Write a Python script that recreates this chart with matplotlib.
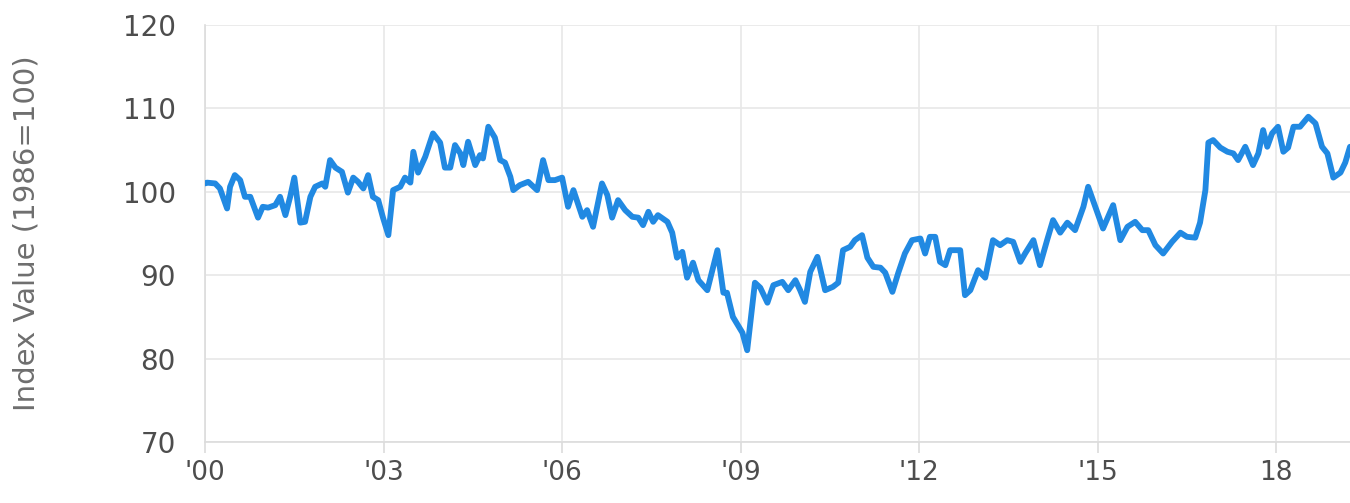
import matplotlib
matplotlib.use("Agg")
import matplotlib.pyplot as plt

# Index (decimal year, index value, 1986=100)
years = [
    2000.00, 2000.03, 2000.17, 2000.25, 2000.37, 2000.42, 2000.50, 2000.59, 2000.67, 2000.76,
    2000.89, 2000.97, 2001.06, 2001.18, 2001.26, 2001.35, 2001.43, 2001.50, 2001.60, 2001.68,
    2001.77, 2001.85, 2001.97, 2002.02, 2002.10, 2002.19, 2002.30, 2002.40, 2002.49, 2002.57,
    2002.66, 2002.74, 2002.82, 2002.91, 2002.99, 2003.08, 2003.16, 2003.28, 2003.36, 2003.45,
    2003.50, 2003.58, 2003.70, 2003.83, 2003.95, 2004.03, 2004.12, 2004.20, 2004.29, 2004.34,
    2004.42, 2004.54, 2004.62, 2004.67, 2004.76, 2004.87, 2004.96, 2005.04, 2005.13, 2005.18,
    2005.29, 2005.43, 2005.58, 2005.68, 2005.77, 2005.88, 2006.00, 2006.10, 2006.19, 2006.34,
    2006.42, 2006.52, 2006.67, 2006.76, 2006.84, 2006.94, 2007.06, 2007.18, 2007.28, 2007.36,
    2007.45, 2007.53, 2007.61, 2007.77, 2007.85, 2007.93, 2008.02, 2008.10, 2008.20, 2008.29,
    2008.44, 2008.61, 2008.71, 2008.77, 2008.87, 2009.03, 2009.11, 2009.24, 2009.33, 2009.45,
    2009.55, 2009.70, 2009.80, 2009.92, 2010.00, 2010.08, 2010.17, 2010.29, 2010.42, 2010.55,
    2010.64, 2010.72, 2010.84, 2010.92, 2011.04, 2011.13, 2011.23, 2011.35, 2011.43, 2011.55,
    2011.65, 2011.76, 2011.88, 2012.02, 2012.10, 2012.18, 2012.27, 2012.35, 2012.44, 2012.52,
    2012.69, 2012.77, 2012.86, 2012.99, 2013.11, 2013.24, 2013.36, 2013.48, 2013.58, 2013.70,
    2013.78, 2013.92, 2014.03, 2014.15, 2014.25, 2014.37, 2014.49, 2014.62, 2014.76, 2014.84,
    2014.96, 2015.09, 2015.26, 2015.38, 2015.50, 2015.63, 2015.75, 2015.85, 2015.97, 2016.10,
    2016.25, 2016.39, 2016.50, 2016.64, 2016.72, 2016.81, 2016.86, 2016.94, 2017.06, 2017.18,
    2017.28, 2017.36, 2017.48, 2017.61, 2017.70, 2017.78, 2017.85, 2017.93, 2018.03, 2018.12,
    2018.20, 2018.29, 2018.40, 2018.54, 2018.66, 2018.77, 2018.86, 2018.96, 2019.08, 2019.16,
    2019.24,
]
index_values = [
    101.0, 101.1, 101.0, 100.4, 98.0, 100.6, 102.0, 101.4, 99.4, 99.4,
    96.9, 98.2, 98.1, 98.4, 99.4, 97.2, 99.4, 101.7, 96.3, 96.4,
    99.4, 100.6, 101.0, 100.6, 103.8, 102.9, 102.4, 99.9, 101.7, 101.2,
    100.4, 102.0, 99.4, 99.0, 96.9, 94.8, 100.2, 100.6, 101.7, 101.1,
    104.8, 102.3, 104.2, 107.0, 105.9, 102.9, 102.9, 105.6, 104.6, 103.2,
    106.0, 103.2, 104.4, 104.0, 107.8, 106.5, 103.8, 103.5, 101.8, 100.2,
    100.8, 101.2, 100.2, 103.8, 101.4, 101.4, 101.7, 98.2, 100.2, 97.0,
    97.8, 95.8, 101.0, 99.6, 96.9, 99.0, 97.8, 97.0, 96.9, 96.0,
    97.6, 96.4, 97.2, 96.4, 95.1, 92.1, 92.8, 89.7, 91.5, 89.4,
    88.2, 93.0, 87.9, 87.9, 85.0, 83.1, 81.0, 89.1, 88.5, 86.7,
    88.8, 89.2, 88.2, 89.4, 88.2, 86.8, 90.4, 92.2, 88.2, 88.6,
    89.1, 93.0, 93.4, 94.2, 94.8, 92.1, 91.0, 90.9, 90.3, 88.0,
    90.3, 92.6, 94.2, 94.4, 92.6, 94.6, 94.6, 91.6, 91.2, 93.0,
    93.0, 87.6, 88.2, 90.6, 89.7, 94.2, 93.6, 94.2, 94.0, 91.6,
    92.6, 94.2, 91.2, 94.2, 96.6, 95.1, 96.3, 95.4, 98.2, 100.6,
    98.2, 95.6, 98.4, 94.2, 95.8, 96.4, 95.4, 95.4, 93.6, 92.6,
    94.0, 95.1, 94.6, 94.5, 96.3, 100.2, 105.9, 106.2, 105.3, 104.8,
    104.6, 103.8, 105.4, 103.2, 104.6, 107.4, 105.4, 107.0, 107.8, 104.8,
    105.3, 107.8, 107.8, 109.0, 108.2, 105.4, 104.6, 101.7, 102.3, 103.5,
    105.4,
]

x_ticks = [2000, 2003, 2006, 2009, 2012, 2015, 2018]
x_labels = ["'00", "'03", "'06", "'09", "'12", "'15", "18"]
y_ticks = [70, 80, 90, 100, 110, 120]

plt.rcParams['font.family'] = ['DejaVu Sans']

fig = plt.figure(figsize=(13.5, 5.03), dpi=100)
ax = fig.add_axes([0.1519, 0.1213, 0.8481, 0.8290])

ax.plot(years, index_values, color='#2189e2', linewidth=4.2,
        solid_joinstyle='round', solid_capstyle='round', zorder=3)

ax.set_xlim(2000, 2019.24)
ax.set_ylim(70, 120)
ax.set_xticks(x_ticks)
ax.set_xticklabels(x_labels)
ax.set_yticks(y_ticks)

ax.grid(True, color='#e8e8e8', linewidth=1.2, zorder=0)
for side in ['top', 'right']:
    ax.spines[side].set_visible(False)
for side in ['left', 'bottom']:
    ax.spines[side].set_color('#dcdcdc')
    ax.spines[side].set_linewidth(1.2)

ax.tick_params(axis='x', colors='#dcdcdc', length=8, width=1.2, labelcolor='#4d4d4d',
               labelsize=19, pad=5)
ax.tick_params(axis='y', length=0, labelcolor='#4d4d4d', labelsize=20, pad=21)

ax.set_ylabel('Index Value (1986=100)', fontsize=21, color='#6e6e6e')
ax.yaxis.set_label_coords(-0.144, 0.5)

fig.savefig('out.png', dpi=100)
